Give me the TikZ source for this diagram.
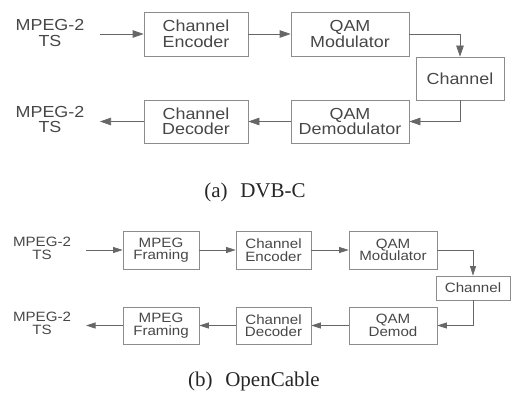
\documentclass[tikz,border=0pt]{standalone}
\usepackage{fontspec}
\newfontfamily\boxfont[FakeStretch=1.12]{Liberation Sans}
\newfontfamily\capfont{Liberation Serif}
\usetikzlibrary{arrows.meta}

\begin{document}
\begin{tikzpicture}[x=1pt,y=-1pt,
  blk/.style={draw=black!45, line width=0.7pt, inner sep=0pt, align=center, text=black!72},
  bigblk/.style={blk, font=\boxfont\fontsize{16}{15.5}\selectfont},
  smallblk/.style={blk, font=\boxfont\fontsize{13.5}{12.5}\selectfont},
  bigtxt/.style={inner sep=0pt, align=center, text=black!72, font=\boxfont\fontsize{16}{15.5}\selectfont},
  smalltxt/.style={inner sep=0pt, align=center, text=black!72, font=\boxfont\fontsize{13.5}{12.5}\selectfont},
  bigarr/.style={draw=black!60, line width=0.7pt, -{Triangle[length=11pt,width=7.5pt]}},
  smallarr/.style={draw=black!60, line width=0.7pt, -{Triangle[length=9.5pt,width=6pt]}},
  caption/.style={inner sep=0pt, text=black!85, font=\capfont\fontsize{21}{21}\selectfont}
]
\useasboundingbox (0,0) rectangle (511,393);

% ---- (a) DVB-C chain ----
\node[bigtxt] (in1) at (50,33) {MPEG-2\\TS};
\node[bigblk, minimum width=104pt, minimum height=44pt] (enc) at (196,34) {Channel\\Encoder};
\node[bigblk, minimum width=118pt, minimum height=44pt] (mod) at (350,34) {QAM\\Modulator};
\node[bigblk, minimum width=88pt, minimum height=43pt] (chan) at (460,78.5) {Channel};
\node[bigblk, minimum width=118pt, minimum height=43pt] (dem) at (350,121.5) {QAM\\Demodulator};
\node[bigblk, minimum width=104pt, minimum height=43pt] (dec) at (196,121.5) {Channel\\Decoder};
\node[bigtxt] (out1) at (50,119.5) {MPEG-2\\TS};
\coordinate (i1) at (100,34);
\coordinate (o1) at (100,121.5);

\draw[bigarr] (i1) -- (enc.west);
\draw[bigarr] (enc.east) -- (mod.west);
\draw[bigarr] (mod.east) -| (chan.north);
\draw[bigarr] (chan.south) |- (dem.east);
\draw[bigarr] (dem.west) -- (dec.east);
\draw[bigarr] (dec.west) -- (o1);

\node[caption] (capa) at (255,192) {(a)\hspace{0.6em}DVB-C};

% ---- (b) OpenCable chain ----
\node[smalltxt] (in2) at (42,248.5) {MPEG-2\\TS};
\node[smallblk, minimum width=76pt, minimum height=38pt] (fr1) at (161,250) {MPEG\\Framing};
\node[smallblk, minimum width=75pt, minimum height=38pt] (enc2) at (273.5,250) {Channel\\Encoder};
\node[smallblk, minimum width=88pt, minimum height=38pt] (mod2) at (393,250) {QAM\\Modulator};
\node[smallblk, minimum width=74pt, minimum height=24pt] (chan2) at (473,288) {Channel};
\node[smallblk, minimum width=88pt, minimum height=37pt] (dem2) at (393,325.5) {QAM\\Demod};
\node[smallblk, minimum width=75pt, minimum height=37pt] (dec2) at (273.5,325.5) {Channel\\Decoder};
\node[smallblk, minimum width=76pt, minimum height=37pt] (fr2) at (161,325.5) {MPEG\\Framing};
\node[smalltxt] (out2) at (42,323.5) {MPEG-2\\TS};
\coordinate (i2) at (86,250);
\coordinate (o2) at (86,325.5);

\draw[smallarr] (i2) -- (fr1.west);
\draw[smallarr] (fr1.east) -- (enc2.west);
\draw[smallarr] (enc2.east) -- (mod2.west);
\draw[smallarr] (mod2.east) -| (chan2.north);
\draw[smallarr] (chan2.south) |- (dem2.east);
\draw[smallarr] (dem2.west) -- (dec2.east);
\draw[smallarr] (dec2.west) -- (fr2.east);
\draw[smallarr] (fr2.west) -- (o2);

\node[caption] (capb) at (254,381) {(b)\hspace{0.6em}OpenCable};
\end{tikzpicture}
\end{document}
